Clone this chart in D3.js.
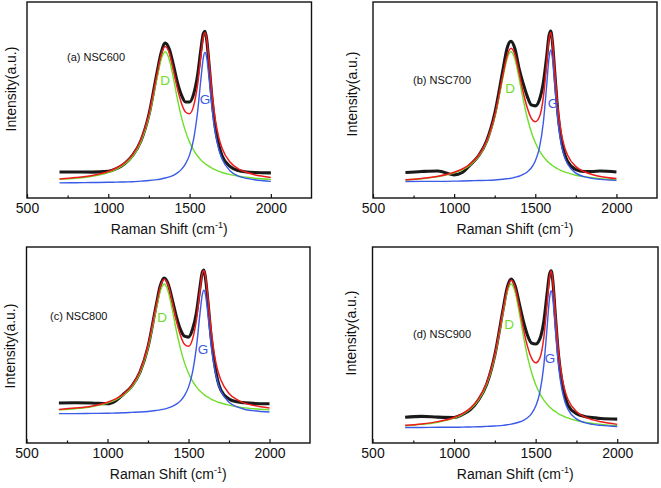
<!DOCTYPE html>
<html>
<head>
<meta charset="utf-8">
<script src="https://cdn.jsdelivr.net/npm/d3@7"></script>
<style>
  html, body { margin: 0; padding: 0; background: #fff; }
  svg { display: block; font-family: "Liberation Sans", Arial, sans-serif; }
</style>
</head>
<body>
<svg id="chart" width="661" height="488"></svg>
<script>
// ---------------- data ----------------
const ramanShift = [700, 800, 900, 1000, 1050, 1100, 1150, 1200, 1250, 1300, 1325, 1350, 1375, 1400, 1425, 1450, 1475, 1500, 1525, 1550, 1570, 1585, 1595, 1605, 1620, 1640, 1660, 1680, 1700, 1750, 1800, 1850, 1900, 2000];

// (a) NSC600
const measuredA = [0.133, 0.133, 0.132, 0.136, 0.150, 0.175, 0.218, 0.290, 0.425, 0.640, 0.740, 0.790, 0.760, 0.680, 0.590, 0.525, 0.490, 0.490, 0.530, 0.630, 0.760, 0.840, 0.850, 0.810, 0.680, 0.490, 0.350, 0.270, 0.215, 0.160, 0.140, 0.133, 0.130, 0.128];
const dBandA    = [0.095, 0.101, 0.111, 0.130, 0.147, 0.172, 0.213, 0.285, 0.413, 0.613, 0.707, 0.746, 0.707, 0.613, 0.506, 0.413, 0.340, 0.285, 0.244, 0.213, 0.194, 0.182, 0.175, 0.169, 0.161, 0.151, 0.143, 0.136, 0.130, 0.119, 0.111, 0.106, 0.101, 0.095];
const gBandA    = [0.077, 0.078, 0.079, 0.080, 0.081, 0.082, 0.083, 0.086, 0.089, 0.094, 0.097, 0.102, 0.108, 0.116, 0.128, 0.146, 0.174, 0.220, 0.301, 0.444, 0.609, 0.718, 0.743, 0.718, 0.609, 0.444, 0.324, 0.247, 0.199, 0.138, 0.112, 0.100, 0.093, 0.085];
const fitA      = [0.097, 0.104, 0.115, 0.135, 0.153, 0.179, 0.221, 0.296, 0.427, 0.632, 0.729, 0.773, 0.740, 0.654, 0.559, 0.484, 0.439, 0.430, 0.470, 0.582, 0.728, 0.825, 0.843, 0.812, 0.695, 0.520, 0.392, 0.308, 0.254, 0.182, 0.149, 0.131, 0.119, 0.105];

// (b) NSC700
const measuredB = [0.130, 0.135, 0.138, 0.118, 0.130, 0.170, 0.215, 0.290, 0.430, 0.650, 0.760, 0.800, 0.760, 0.660, 0.585, 0.520, 0.475, 0.470, 0.500, 0.590, 0.720, 0.830, 0.852, 0.800, 0.640, 0.430, 0.300, 0.225, 0.185, 0.145, 0.135, 0.135, 0.138, 0.133];
const dBandB    = [0.092, 0.098, 0.109, 0.128, 0.144, 0.169, 0.211, 0.283, 0.412, 0.612, 0.707, 0.746, 0.707, 0.612, 0.505, 0.412, 0.338, 0.283, 0.242, 0.211, 0.191, 0.179, 0.173, 0.166, 0.158, 0.148, 0.140, 0.133, 0.128, 0.116, 0.109, 0.103, 0.098, 0.092];
const gBandB    = [0.084, 0.085, 0.085, 0.086, 0.087, 0.088, 0.089, 0.090, 0.092, 0.096, 0.098, 0.101, 0.106, 0.111, 0.120, 0.133, 0.153, 0.189, 0.254, 0.388, 0.573, 0.717, 0.755, 0.717, 0.573, 0.388, 0.275, 0.210, 0.172, 0.127, 0.109, 0.100, 0.095, 0.090];
const fitB      = [0.093, 0.100, 0.111, 0.131, 0.148, 0.174, 0.217, 0.290, 0.421, 0.625, 0.722, 0.764, 0.730, 0.640, 0.542, 0.462, 0.408, 0.389, 0.413, 0.516, 0.681, 0.813, 0.845, 0.800, 0.648, 0.453, 0.332, 0.260, 0.217, 0.160, 0.135, 0.120, 0.110, 0.099];

// (c) NSC800
const measuredC = [0.204, 0.205, 0.204, 0.200, 0.215, 0.250, 0.290, 0.360, 0.490, 0.700, 0.800, 0.842, 0.810, 0.730, 0.645, 0.580, 0.545, 0.540, 0.580, 0.670, 0.790, 0.870, 0.883, 0.840, 0.720, 0.540, 0.410, 0.320, 0.270, 0.225, 0.210, 0.205, 0.202, 0.200];
const dBandC    = [0.169, 0.175, 0.185, 0.204, 0.220, 0.245, 0.285, 0.356, 0.483, 0.680, 0.772, 0.811, 0.772, 0.680, 0.574, 0.483, 0.410, 0.356, 0.316, 0.285, 0.266, 0.255, 0.248, 0.241, 0.234, 0.224, 0.216, 0.209, 0.204, 0.193, 0.185, 0.179, 0.175, 0.169];
const gBandC    = [0.150, 0.150, 0.151, 0.152, 0.153, 0.154, 0.156, 0.158, 0.161, 0.166, 0.169, 0.173, 0.179, 0.187, 0.198, 0.215, 0.242, 0.285, 0.362, 0.497, 0.654, 0.756, 0.780, 0.756, 0.654, 0.497, 0.383, 0.310, 0.265, 0.208, 0.184, 0.171, 0.165, 0.158];
const fitC      = [0.171, 0.178, 0.188, 0.208, 0.225, 0.251, 0.293, 0.366, 0.496, 0.698, 0.793, 0.836, 0.803, 0.719, 0.624, 0.550, 0.504, 0.493, 0.530, 0.634, 0.772, 0.863, 0.880, 0.849, 0.740, 0.573, 0.451, 0.371, 0.321, 0.253, 0.221, 0.202, 0.192, 0.179];

// (d) NSC900
const measuredD = [0.131, 0.136, 0.132, 0.130, 0.145, 0.170, 0.220, 0.300, 0.450, 0.680, 0.790, 0.837, 0.800, 0.710, 0.620, 0.550, 0.510, 0.505, 0.530, 0.620, 0.760, 0.860, 0.879, 0.830, 0.660, 0.450, 0.320, 0.240, 0.190, 0.150, 0.135, 0.130, 0.125, 0.122];
const dBandD    = [0.088, 0.095, 0.106, 0.127, 0.145, 0.173, 0.219, 0.299, 0.441, 0.663, 0.767, 0.811, 0.767, 0.663, 0.545, 0.441, 0.360, 0.299, 0.253, 0.219, 0.198, 0.184, 0.177, 0.169, 0.161, 0.149, 0.141, 0.133, 0.127, 0.115, 0.106, 0.100, 0.095, 0.088];
const gBandD    = [0.079, 0.079, 0.080, 0.080, 0.081, 0.082, 0.083, 0.085, 0.087, 0.090, 0.093, 0.096, 0.101, 0.107, 0.116, 0.129, 0.150, 0.187, 0.256, 0.395, 0.587, 0.738, 0.777, 0.738, 0.587, 0.395, 0.277, 0.209, 0.169, 0.123, 0.104, 0.095, 0.090, 0.084];
const fitD      = [0.090, 0.097, 0.109, 0.130, 0.149, 0.178, 0.225, 0.307, 0.451, 0.676, 0.783, 0.830, 0.791, 0.693, 0.584, 0.493, 0.433, 0.409, 0.432, 0.537, 0.708, 0.845, 0.877, 0.830, 0.671, 0.467, 0.341, 0.265, 0.219, 0.161, 0.133, 0.118, 0.108, 0.095];

const panelNames = ["(a) NSC600", "(b) NSC700", "(c) NSC800", "(d) NSC900"];
const bandNames = ["D", "G"];
const xMajorTicks = [500, 1000, 1500, 2000];
const xMinorTicks = [750, 1250, 1750];
const xDomain = [500, 2250];
const xTitle = "Raman Shift (cm";
const yTitle = "Intensity(a.u.)";

// ---------------- layout ----------------
const panels = [
  { name: panelNames[0], m: measuredA, d: dBandA, g: gBandA, f: fitA,
    left: 27, right: 311.5, top: 2, bottom: 198,
    label: [67, 61], dLab: [165, 85], gLab: [205, 104], yT: [15.5, 89] },
  { name: panelNames[1], m: measuredB, d: dBandB, g: gBandB, f: fitB,
    left: 373, right: 657, top: 2, bottom: 198,
    label: [413, 84], dLab: [510, 93], gLab: [553, 108], yT: [357, 94] },
  { name: panelNames[2], m: measuredC, d: dBandC, g: gBandC, f: fitC,
    left: 26.5, right: 310, top: 247, bottom: 443,
    label: [50, 320], dLab: [162, 322], gLab: [203, 354], yT: [14.5, 346] },
  { name: panelNames[3], m: measuredD, d: dBandD, g: gBandD, f: fitD,
    left: 372.5, right: 658, top: 247, bottom: 443,
    label: [413, 338], dLab: [509, 329], gLab: [550, 363], yT: [356, 333] }
];

const colors = { measured: "#1a1a1a", fit: "#ee1c1c", d: "#6ede2a", g: "#3a5ae8" };

const svg = d3.select("#chart");

panels.forEach(p => {
  const x = d3.scaleLinear().domain(xDomain).range([p.left, p.right]);
  const y = d3.scaleLinear().domain([0, 1]).range([p.bottom, p.top]);
  const g = svg.append("g");

  const line = vals => d3.line()
    .x((d, i) => x(ramanShift[i]))
    .y(d => y(d))
    .curve(d3.curveMonotoneX)(vals);

  // measured spectrum (noisy black band)
  g.append("path").attr("d", line(p.m)).attr("fill", "none")
    .attr("stroke", colors.measured).attr("stroke-width", 3.1)
    .attr("stroke-linejoin", "round");
  // D band
  g.append("path").attr("d", line(p.d)).attr("fill", "none")
    .attr("stroke", colors.d).attr("stroke-width", 1.4);
  // G band
  g.append("path").attr("d", line(p.g)).attr("fill", "none")
    .attr("stroke", colors.g).attr("stroke-width", 1.4);
  // cumulative fit
  g.append("path").attr("d", line(p.f)).attr("fill", "none")
    .attr("stroke", colors.fit).attr("stroke-width", 1.5);

  // frame
  g.append("rect")
    .attr("x", p.left).attr("y", p.top)
    .attr("width", p.right - p.left).attr("height", p.bottom - p.top)
    .attr("fill", "none").attr("stroke", "#111").attr("stroke-width", 1.4);

  // bottom axis: major ticks with labels (inward)
  const ax = g.append("g").attr("transform", `translate(0,${p.bottom})`)
    .call(d3.axisBottom(x).tickValues(xMajorTicks).tickSizeInner(-4).tickSizeOuter(0).tickPadding(5).tickFormat(d3.format("d")));
  ax.select(".domain").remove();
  ax.selectAll("line").attr("stroke", "#111").attr("stroke-width", 1.2);
  ax.selectAll("text").attr("font-size", 14).attr("fill", "#111")
    .attr("font-family", "'Liberation Sans', Arial, sans-serif");

  const axm = g.append("g").attr("transform", `translate(0,${p.bottom})`)
    .call(d3.axisBottom(x).tickValues(xMinorTicks).tickSizeInner(-2.5).tickSizeOuter(0).tickFormat(""));
  axm.select(".domain").remove();
  axm.selectAll("line").attr("stroke", "#111").attr("stroke-width", 1.2);

  // x title with superscript
  const xt = g.append("text")
    .attr("x", (p.left + p.right) / 2).attr("y", p.bottom + 35.5)
    .attr("text-anchor", "middle").attr("font-size", 14).attr("fill", "#111");
  xt.append("tspan").text(xTitle);
  xt.append("tspan").attr("font-size", 9).attr("dy", -6).text("-1");
  xt.append("tspan").attr("dy", 6).text(")");

  // y title
  g.append("text")
    .attr("transform", `translate(${p.yT[0]},${p.yT[1]}) rotate(-90)`)
    .attr("text-anchor", "middle").attr("font-size", 14).attr("fill", "#111")
    .text(yTitle);

  // panel label
  g.append("text").attr("x", p.label[0]).attr("y", p.label[1])
    .attr("font-size", 11).attr("fill", "#111").text(p.name);

  // band labels
  g.append("text").attr("x", p.dLab[0]).attr("y", p.dLab[1])
    .attr("text-anchor", "middle").attr("font-size", 13.5).attr("fill", colors.d)
    .text(bandNames[0]);
  g.append("text").attr("x", p.gLab[0]).attr("y", p.gLab[1])
    .attr("text-anchor", "middle").attr("font-size", 13.5).attr("fill", colors.g)
    .text(bandNames[1]);
});
</script>
</body>
</html>
